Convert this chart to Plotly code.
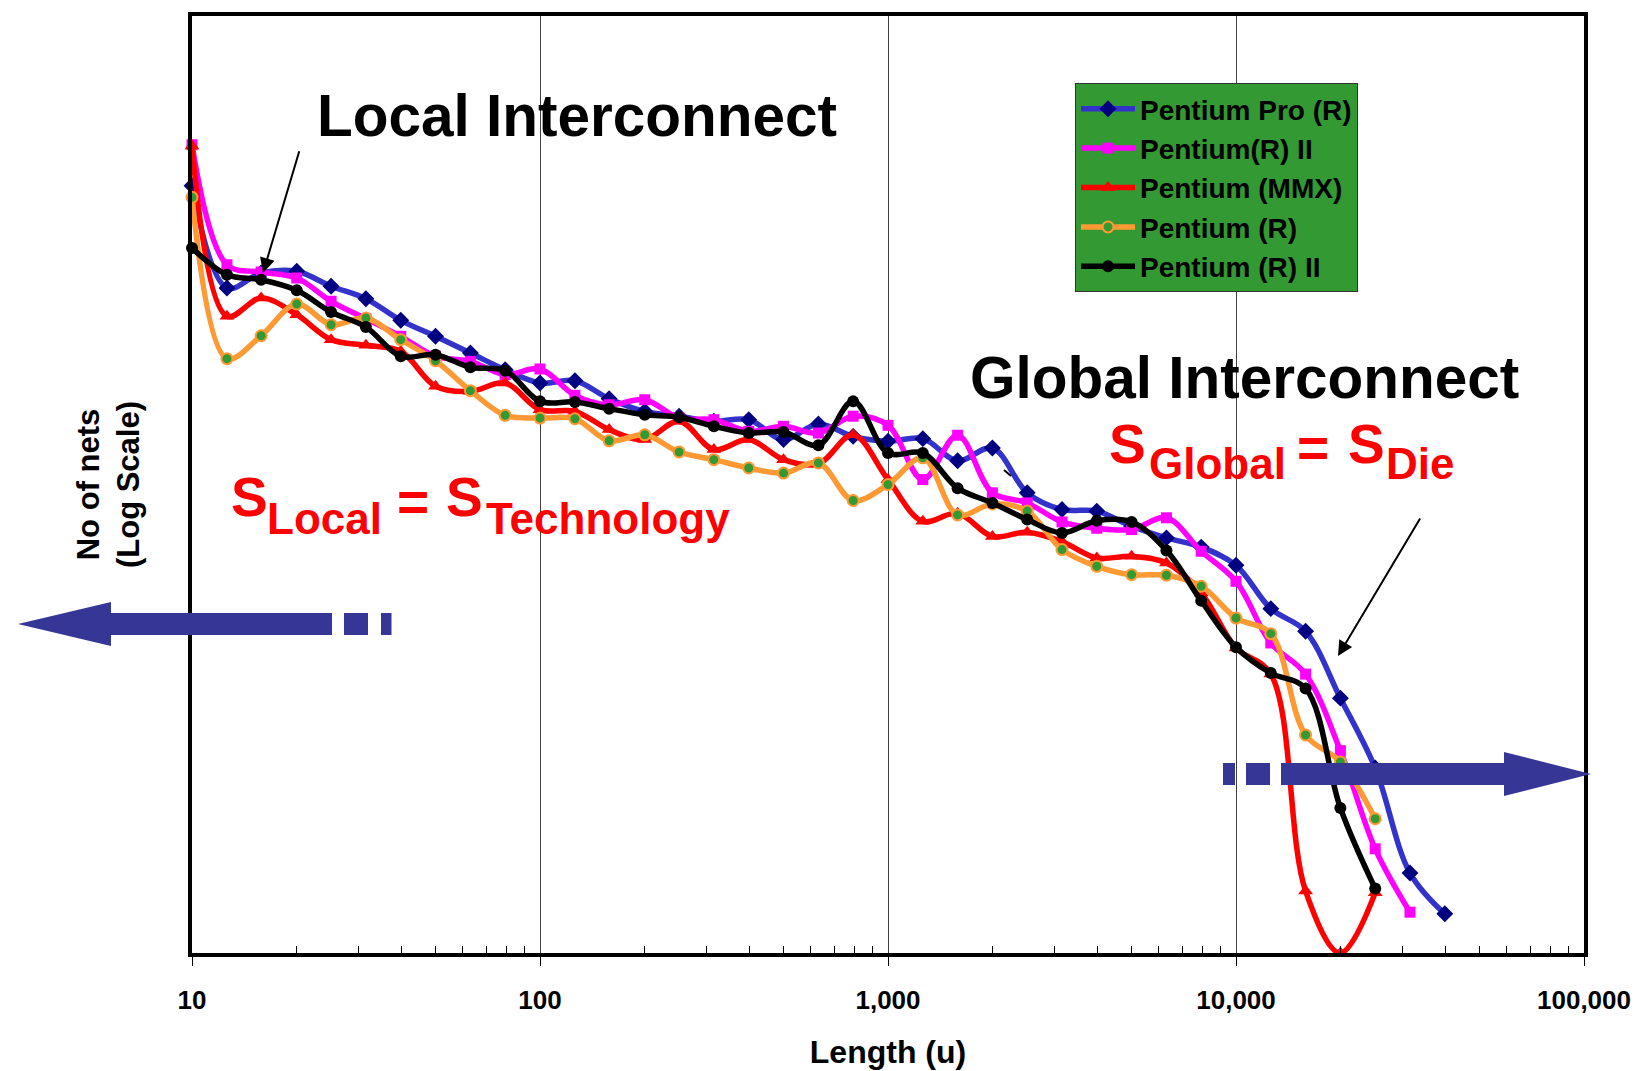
import plotly.graph_objects as go

# ---------------- data ----------------
lengths = [10, 12.6, 15.8, 20, 25.1, 31.6, 39.8, 50.1, 63.1, 79.4,
           100, 126, 158, 200, 251, 316, 398, 501, 631, 794,
           1000, 1259, 1585, 1995, 2512, 3162, 3981, 5012, 6310, 7943,
           10000, 12589, 15849, 19953, 25119, 31623, 39811]

pentium_pro = [6860, 2113, 2512, 2562, 2155, 1869, 1457, 1212, 1000, 825,
               708, 727, 591, 511, 483, 456, 464, 369, 442, 383,
               362, 373, 289, 335, 200, 165, 162, 136, 119, 107,
               86.8, 52.7, 40.6, 18.8, 8.41, 2.51, 1.57]
pentium_r_ii = [11000, 2763, 2541, 2371, 1814, 1484, 1212, 963, 909, 779,
                832, 614, 551, 584, 473, 464, 406, 430, 398, 483,
                435, 233, 388, 200, 178, 143, 133, 131, 150, 102,
                72.2, 35.5, 24.8, 10.27, 3.32, 1.60]
pentium_mmx = [10840, 1526, 1884, 1554, 1166, 1093, 1020, 682, 643, 708,
               521, 511, 414, 369, 456, 329, 369, 293, 279, 390,
               233, 144, 158, 121, 127, 114, 94.4, 96.3, 89.1, 63.1,
               33.5, 24.8, 2.04, 1.0, 2.0]
pentium_r = [6000, 937, 1220, 1758, 1385, 1496, 1166, 915, 648, 488,
             473, 469, 364, 390, 320, 293, 266, 251, 282, 183,
             220, 299, 155, 176, 162, 104, 85.8, 77.9, 77.4, 68.2,
             47.3, 39.5, 12.3, 9.02, 4.69]
pentium_r_ii_b = [3350, 2463, 2325, 2058, 1603, 1349, 963, 981, 848, 816,
                  573, 569, 527, 491, 477, 430, 398, 403, 346, 573,
                  316, 316, 211, 178, 147, 126, 145, 143, 103, 57.7,
                  33.8, 25.1, 21.0, 5.31, 2.10]

series_names = ["Pentium Pro (R)", "Pentium(R) II", "Pentium (MMX)",
                "Pentium (R)", "Pentium (R) II"]

tick_vals = [10, 100, 1000, 10000, 100000]
tick_text = ["10", "100", "1,000", "10,000", "100,000"]

# ---------------- layout helpers ----------------
W, H = 1644, 1071
L, R, T, B = 184, 68, 8, 126
PW, PH = W - L - R, H - T - B
FONT = "Liberation Sans, Arial, Helvetica, sans-serif"


def px(x):
    return (x - L) / PW


def py(y):
    return (H - B - y) / PH


minor_vals = [m * 10 ** e for e in range(1, 5) for m in range(2, 10)]

fig = go.Figure()

LW = 5.5
styles = [
    dict(line=dict(color="#3333CC", width=LW, shape="spline"),
         marker=dict(symbol="diamond", size=13, color="#000080")),
    dict(line=dict(color="#FF00FF", width=LW, shape="spline"),
         marker=dict(symbol="square", size=11, color="#FF00FF")),
    dict(line=dict(color="#FF0000", width=LW, shape="spline"),
         marker=dict(symbol="triangle-up", size=13, color="#FF0000")),
    dict(line=dict(color="#FF9933", width=LW, shape="spline"),
         marker=dict(symbol="circle", size=11, color="#339933",
                     line=dict(color="#FF9933", width=2))),
    dict(line=dict(color="#000000", width=LW, shape="spline"),
         marker=dict(symbol="circle", size=12, color="#000000")),
]
all_series = [pentium_pro, pentium_r_ii, pentium_mmx, pentium_r, pentium_r_ii_b]

for name, vals, st in zip(series_names, all_series, styles):
    fig.add_trace(go.Scatter(
        x=lengths[:len(vals)], y=vals, name=name, mode="lines+markers",
        cliponaxis=False, **st))

bold = dict(family=FONT, color="black", weight="bold")


def txt(s, x, y, size, color="black"):
    return dict(text=s, x=px(x), y=py(y), xref="paper", yref="paper",
                xanchor="left", yanchor="middle", showarrow=False,
                font=dict(family=FONT, size=size, color=color, weight="bold"))


RED = "#FF0000"
annotations = [
    txt("Local Interconnect", 307, 107, 58.5),
    txt("Global Interconnect", 960, 369, 58.5),
    txt("S", 220.5, 489.5, 55, RED),
    txt("Local", 257, 510, 44, RED),
    txt("=", 387, 494, 55, RED),
    txt("S", 435.5, 489.5, 55, RED),
    txt("Technology", 476, 510, 44, RED),
    txt("S", 1099, 435.5, 55, RED),
    txt("Global", 1139, 455, 44, RED),
    txt("=", 1287, 440, 55, RED),
    txt("S", 1338, 435.5, 55, RED),
    txt("Die", 1376, 455, 44, RED),
    dict(text="", x=px(255), y=py(265), xref="paper", yref="paper",
         ax=36.7, ay=-123.3, showarrow=True, arrowhead=2, arrowsize=1.5,
         arrowwidth=2, arrowcolor="black"),
    dict(text="", x=px(1330), y=py(648), xref="paper", yref="paper",
         ax=83, ay=-139, showarrow=True, arrowhead=2, arrowsize=1.5,
         arrowwidth=2, arrowcolor="black"),
]

ARROW = "#363696"


def poly(points):
    d = "M " + " L ".join(f"{px(a):.5f},{py(b):.5f}" for a, b in points) + " Z"
    return dict(type="path", path=d, xref="paper", yref="paper",
                fillcolor=ARROW, line=dict(width=0), layer="above")


def rect(x0, y0, x1, y1):
    return dict(type="rect", x0=px(x0), x1=px(x1), y0=py(y0), y1=py(y1),
                xref="paper", yref="paper", fillcolor=ARROW,
                line=dict(width=0), layer="above")


shapes = [
    poly([(10, 616), (103, 594), (103, 605), (324, 605), (324, 627),
          (103, 627), (103, 638)]),
    rect(336, 605, 360, 627),
    rect(373, 605, 383.5, 627),
    poly([(1273, 755), (1496, 755), (1496, 744), (1583, 766), (1496, 788),
          (1496, 777), (1273, 777)]),
    rect(1215, 755, 1227, 777),
    rect(1238, 755, 1262, 777),
    dict(type="line", x0=px(996), y0=py(462), x1=px(1003), y1=py(468),
         xref="paper", yref="paper", line=dict(color="black", width=2)),
]

fig.update_layout(
    width=W, height=H,
    margin=dict(l=L, r=R, t=T, b=B, autoexpand=False),
    paper_bgcolor="white", plot_bgcolor="white",
    showlegend=True,
    legend=dict(x=px(1067), y=py(75), xanchor="left", yanchor="top",
                bgcolor="#339933", bordercolor="#333333", borderwidth=1,
                font=dict(family=FONT, size=28, color="black", weight="bold"),
                itemwidth=54, tracegroupgap=0),
    xaxis=dict(
        type="log", range=[1, 5], tickvals=tick_vals, ticktext=tick_text,
        ticks="outside", ticklen=9, tickwidth=1.2, tickcolor="black",
        showgrid=True, gridcolor="#404040", gridwidth=1,
        showline=True, linecolor="black", linewidth=3.5, mirror=True,
        zeroline=False, ticklabelstandoff=12,
        tickfont=dict(size=26, **bold),
        minor=dict(tickvals=minor_vals, ticks="inside", ticklen=7,
                   tickwidth=1, tickcolor="black", showgrid=False),
        title=dict(text="Length (u)", font=dict(size=32, **bold), standoff=28),
    ),
    yaxis=dict(
        type="log", range=[0, 4.685], showticklabels=False, ticks="",
        showgrid=False, showline=True, linecolor="black", linewidth=3.5,
        mirror=True, zeroline=False,
        title=dict(text="No of nets<br>(Log Scale)",
                   font=dict(size=31, **bold), standoff=40),
    ),
    annotations=annotations,
    shapes=shapes,
)

fig.write_html("out.html")
